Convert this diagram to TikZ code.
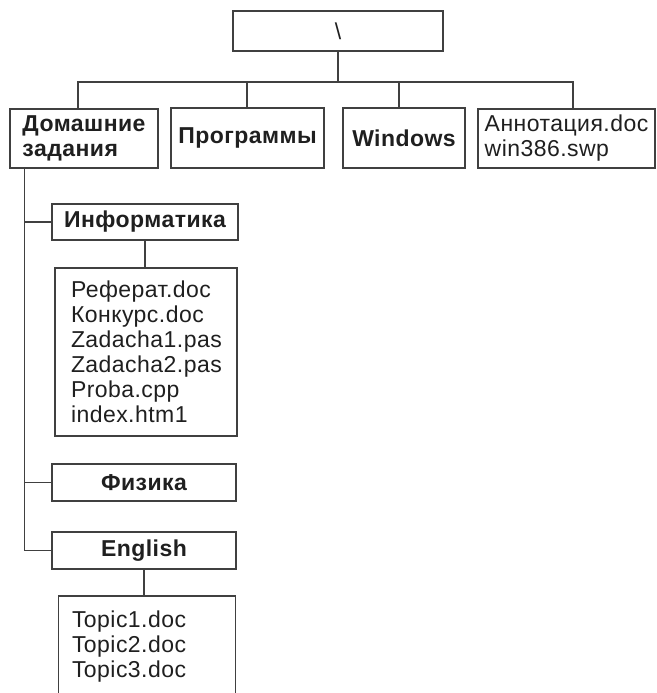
\documentclass[tikz,border=0pt]{standalone}
\usepackage{fontspec}
\setmainfont{Liberation Sans}[LetterSpace=2]
\begin{document}
\begin{tikzpicture}[x=1pt,y=-1pt,
  every node/.style={font=\fontsize{23pt}{25pt}\selectfont, text=black!88},
  bx/.style={draw=black!75, line width=1.1pt, inner sep=0pt, align=left},
  lbl/.style={bx, font=\fontsize{23pt}{25pt}\selectfont\bfseries},
  ln/.style={draw=black!75, line width=1.1pt}]
\useasboundingbox (0,0) rectangle (656,693);
% top level
\node[bx, minimum width=210pt, minimum height=40pt] (root) at (338,31) {\textbackslash};
\node[lbl, minimum width=148pt, minimum height=59pt] (dom) at (84,138.5) {Домашние\\задания};
\node[lbl, minimum width=153pt, minimum height=60pt] (prog) at (247.5,138) {Программы};
\node[lbl, minimum width=122pt, minimum height=60pt] (win) at (404,138) {Windows};
\node[bx, minimum width=177pt, minimum height=59pt] (ann) at (566.5,138.5) {Аннотация.doc\\win386.swp};
% second level
\node[lbl, minimum width=186pt, minimum height=36pt] (inf) at (145,222) {Информатика};
\node[bx, text width=150pt, inner xsep=16pt, minimum height=168pt] (files) at (146,352)
  {Реферат.doc\\Конкурс.doc\\Zadacha1.pas\\Zadacha2.pas\\Proba.cpp\\index.htm1};
\node[lbl, minimum width=184pt, minimum height=37pt] (phys) at (144,482.5) {Физика};
\node[lbl, minimum width=184pt, minimum height=37pt] (eng) at (144,550.5) {English};
\node[align=left, text width=150pt, inner xsep=13pt, inner ysep=15pt, anchor=north] (tb) at (147,596)
  {Topic1.doc\\Topic2.doc\\Topic3.doc};
\draw[ln] (tb.north west |- 0,700) -- (tb.north west) -- (tb.north east) -- (tb.north east |- 0,700);
% connectors
\coordinate (bus) at (339,82);
\draw[ln] (root.south) -- (root.south |- bus);
\draw[ln] ([xshift=-6pt]dom.north) |- (bus) -| ([xshift=6.5pt]ann.north);
\draw[ln] ([xshift=-0.5pt]prog.north) -- ([xshift=-0.5pt]prog.north |- bus);
\draw[ln] ([xshift=-5pt]win.north) -- ([xshift=-5pt]win.north |- bus);
\coordinate (trunk) at ([xshift=15pt]dom.south west);
\draw[ln] (trunk) |- (eng.west);
\draw[ln] (inf.west) -- (inf.west -| trunk);
\draw[ln] (phys.west) -- (phys.west -| trunk);
\draw[ln] (inf.south) -- (inf.south |- files.north);
\draw[ln] (eng.south) -- (eng.south |- tb.north);
\end{tikzpicture}
\end{document}
